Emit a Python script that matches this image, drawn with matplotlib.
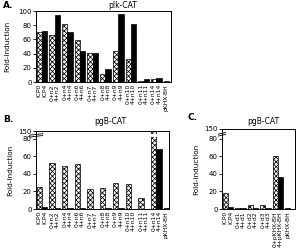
import matplotlib
matplotlib.use('agg')
from matplotlib import pyplot as plt

# Panel A: pIk-CAT
a_labels = ['ICP0', 'ICP4', '0+n2', '4+n2', '0+n4', '4+n4', '0+n6', '4+n6',
            '0+n7', '4+n7', '0+n8', '4+n8', '0+n9', '4+n9', '0+n10', '4+n10',
            '0+n11', '4+n11', '0+n14', '4+n14', 'pKHX-BH']
a_values = [70, 72, 66, 94, 82, 71, 59, 43, 41, 41, 11, 18, 44, 96, 33, 82,
            2, 4, 4, 5, 1]

# Panel B: pgB-CAT (0+n14 is off scale, drawn through the axis break)
b_labels = a_labels
b_values = [25, 2, 52, 1, 49, 1, 51, 1, 23, 0.5, 24, 1, 30, 1, 28, 0.5,
            12, 0.5, 150, 69, 1]

# Panel C: pgB-CAT
c_labels = ['ICP0', 'ICP4', '0+d1', '4+d1', '0+d2', '4+d2', '0+d3', '4+d3',
            '0+pKHX-BH', '4+pKHX-BH', 'pKHX-BH']
c_values = [18, 2, 1, 1, 4, 1, 5, 1, 60, 36, 1]

y_ticks = [0, 20, 40, 60, 80]

W, H = 297, 250
plt.rcParams['hatch.linewidth'] = 0.55
plt.rcParams['font.family'] = 'DejaVu Sans'


def px_axes(fig, left, top, right, bottom):
    return fig.add_axes([left / W, 1 - bottom / H, (right - left) / W, (bottom - top) / H])


def draw_bars(ax, labels, values, top, width=0.42):
    xs = []
    for i, (lab, v) in enumerate(zip(labels, values)):
        x = i // 2 + (i % 2) * width + width / 2
        xs.append(x)
        if i % 2 == 0 and lab != 'pKHX-BH':
            ax.bar(x, v, width, color='white', edgecolor='black', hatch='xxxxxxx', linewidth=0.5)
        else:
            ax.bar(x, v, width, color='black', edgecolor='black', linewidth=0.5)
        if v > top:
            # break in an off-scale bar
            ax.bar(x, 0.035 * top, width * 1.1, bottom=0.925 * top, color='white', linewidth=0)
    ax.set_xticks(xs)
    ax.set_xticklabels(labels, rotation=90, fontsize=4.3)
    ax.tick_params(axis='x', length=0, pad=1.5)
    ax.tick_params(axis='y', length=2, width=0.6, pad=1, labelsize=5)
    for s in ax.spines.values():
        s.set_linewidth(0.7)
    ax.set_ylabel('Fold-Induction', fontsize=5.2, labelpad=4)
    ax.set_ylim(0, top)


def axis_break(ax, y):
    for dy in (-0.012, 0.012):
        ax.plot([-0.05, 0.05], [y + dy - 0.01, y + dy + 0.01], transform=ax.transAxes,
                color='black', lw=0.6, clip_on=False)


fig = plt.figure(figsize=(W / 100, H / 100), dpi=100)

# A
ax = px_axes(fig, 36, 11, 171, 82)
draw_bars(ax, a_labels, a_values, 100)
ax.set_xlim(-0.05, 10.58)
ax.set_yticks(y_ticks + [100])
ax.yaxis.labelpad = 6
fig.text(123 / W, 1 - 5 / H, 'pIk-CAT', fontsize=5.5, ha='center', va='center')
fig.text(3 / W, 1 - 5 / H, 'A.', fontsize=6.5, fontweight='bold', va='center')

# B
top = 89
ax = px_axes(fig, 36, 131, 169, 209)
draw_bars(ax, b_labels, b_values, top)
ax.set_xlim(-0.05, 10.42)
ax.set_yticks(y_ticks + [top])
ax.set_yticklabels([str(t) for t in y_ticks] + ['150'])
axis_break(ax, 84 / top)
fig.text(110 / W, 1 - 121 / H, 'pgB-CAT', fontsize=5.5, ha='center', va='center')
fig.text(3 / W, 1 - 119 / H, 'B.', fontsize=6.5, fontweight='bold', va='center')

# C
top = 91
ax = px_axes(fig, 222, 129, 295, 209)
draw_bars(ax, c_labels, c_values, top)
ax.set_xlim(-0.05, 5.79)
ax.set_yticks(y_ticks + [top])
ax.set_yticklabels([str(t) for t in y_ticks] + ['150'])
axis_break(ax, 85 / top)
fig.text(263 / W, 1 - 121 / H, 'pgB-CAT', fontsize=5.5, ha='center', va='center')
fig.text(187 / W, 1 - 117 / H, 'C.', fontsize=6.5, fontweight='bold', va='center')

fig.savefig('out.png', dpi=100)
